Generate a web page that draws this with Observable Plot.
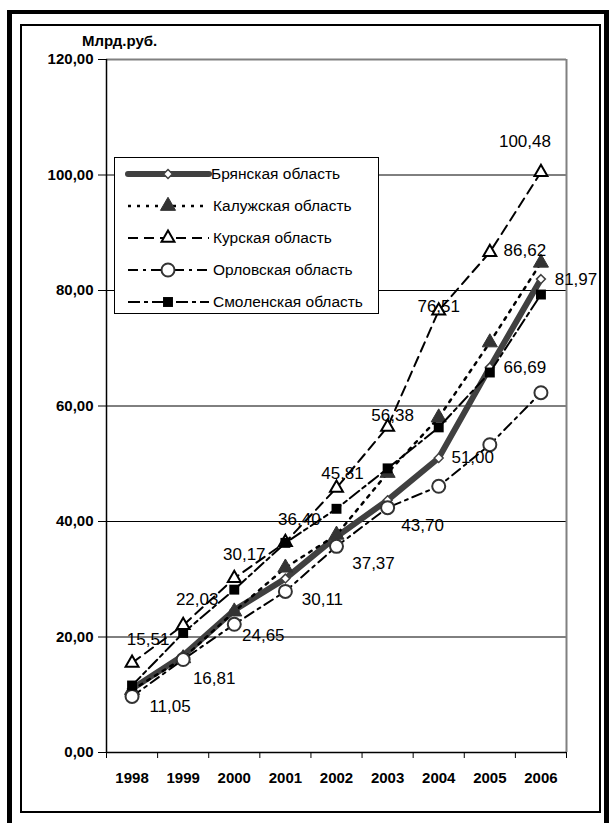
<!DOCTYPE html>
<html><head><meta charset="utf-8">
<script src="https://cdn.jsdelivr.net/npm/d3@7"></script>
<script src="https://cdn.jsdelivr.net/npm/@observablehq/plot@0.6"></script>
<style>
body{margin:0;background:#fff;font-family:"Liberation Sans",Arial,sans-serif;}
#wrap{position:relative;width:611px;height:823px;overflow:hidden;background:#fff;}
.outer{position:absolute;left:7px;top:10px;width:602px;height:900px;box-sizing:border-box;border-left:5px solid #000;border-top:4px solid #000;border-right:5px solid #000;}
.inner{position:absolute;left:20px;top:24px;width:581px;height:789px;box-sizing:border-box;border:2px solid #000;}
#chart{position:absolute;left:0;top:0;}
#ylabel{position:absolute;left:82px;top:33px;font-weight:bold;font-size:15px;line-height:16px;}
#legend{position:absolute;left:114px;top:157px;width:265px;height:157px;box-sizing:border-box;border:1px solid #000;background:#fff;}
</style></head><body>
<div id="wrap">
  <div class="outer"></div>
  <div class="inner"></div>
  <div id="chart"></div>
  <div id="ylabel">Млрд.руб.</div>
  <div id="legend"></div>
</div>
<script>
const years = [1998, 1999, 2000, 2001, 2002, 2003, 2004, 2005, 2006];
const seriesNames = ["Брянская область", "Калужская область", "Курская область", "Орловская область", "Смоленская область"];
const bryansk = [11.05, 16.81, 24.65, 30.11, 37.37, 43.70, 51.00, 66.69, 81.97];
const kaluga = [10.8, 16.3, 24.4, 32.0, 37.7, 48.4, 58.0, 71.0, 84.8];
const kursk = [15.51, 22.03, 30.17, 36.40, 45.81, 56.38, 76.51, 86.62, 100.48];
const orel = [9.7, 16.1, 22.2, 27.9, 35.7, 42.4, 46.1, 53.3, 62.3];
const smolensk = [11.6, 20.7, 28.2, 36.3, 42.2, 49.2, 56.3, 65.8, 79.3];
const yTicks = [0, 20, 40, 60, 80, 100, 120];

// label placement offsets (pixels) for the labelled series
const kurskLabelOffsets = [[16,-23],[14,-26],[10,-24],[14,-23],[6,-14],[5,-11],[0,-4],[35,-2],[-16,-31]];
const bryanskLabelOffsets = [[38,18],[31,23],[29,25],[37,21],[37,27],[35,25],[34,0],[35,0],[35,0]];

const fmt = v => v.toFixed(2).replace(".", ",");

const styles = [
  {values: bryansk, line: {stroke: "#404040", strokeWidth: 6, strokeLinejoin: "round", strokeLinecap: "round"},
   dot: {symbol: "diamond2", r: 4, fill: "#fff", stroke: "#404040", strokeWidth: 1.5}},
  {values: kaluga, line: {stroke: "#000", strokeWidth: 2.5, strokeDasharray: "3,6"},
   dot: {symbol: "triangle", r: 5.6, fill: "#333", stroke: "#333", strokeWidth: 1}},
  {values: kursk, line: {stroke: "#000", strokeWidth: 2, strokeDasharray: "10,6"},
   dot: {symbol: "triangle", r: 4.8, fill: "#fff", stroke: "#000", strokeWidth: 2}},
  {values: orel, line: {stroke: "#000", strokeWidth: 2, strokeDasharray: "10,5,3,5"},
   dot: {symbol: "circle", r: 6.5, fill: "#fff", stroke: "#333", strokeWidth: 2}},
  {values: smolensk, line: {stroke: "#000", strokeWidth: 2, strokeDasharray: "12,4,4,4"},
   dot: {symbol: "square", r: 5.6, fill: "#000", stroke: "none"}}
];

const idx = years.map((_, i) => i);
const bounds = [years[0] - 0.5, ...years.map(y => y + 0.5)];

const marks = [
  Plot.ruleY(yTicks.filter(t => t > 0 && t < 120), {stroke: "#000", strokeWidth: 1}),
  Plot.ruleY([120], {stroke: "#808080", strokeWidth: 2}),
  Plot.ruleX([bounds[bounds.length - 1]], {stroke: "#808080", strokeWidth: 2}),
  Plot.ruleX([bounds[0]], {stroke: "#000", strokeWidth: 1.5}),
  Plot.ruleY([0], {stroke: "#000", strokeWidth: 1.5}),
  Plot.axisY(yTicks, {tickSize: 8, tickPadding: 5, tickFormat: fmt, fontWeight: "bold", fontSize: 15}),
  Plot.axisX(bounds, {tickSize: 6, tickFormat: () => ""}),
  Plot.axisX(years, {tickSize: 0, tickPadding: 20, tickFormat: d => String(d), fontWeight: "bold", fontSize: 15})
];

styles.forEach(s => {
  marks.push(Plot.line(idx, {x: i => years[i], y: i => s.values[i], ...s.line}));
  marks.push(Plot.dot(idx, {x: i => years[i], y: i => s.values[i], ...s.dot}));
});

idx.forEach(i => {
  marks.push(Plot.text([i], {x: years[i], y: kursk[i], text: [fmt(kursk[i])], dx: kurskLabelOffsets[i][0], dy: kurskLabelOffsets[i][1], fontSize: 17, textAnchor: "middle"}));
  marks.push(Plot.text([i], {x: years[i], y: bryansk[i], text: [fmt(bryansk[i])], dx: bryanskLabelOffsets[i][0], dy: bryanskLabelOffsets[i][1], fontSize: 17, textAnchor: "middle"}));
});

const chart = Plot.plot({
  width: 611,
  height: 823,
  marginLeft: 106,
  marginRight: 45,
  marginTop: 59,
  marginBottom: 71,
  style: {fontFamily: "'Liberation Sans', Arial, sans-serif", background: "transparent", overflow: "visible", color: "#000"},
  x: {domain: [bounds[0], bounds[bounds.length - 1]]},
  y: {domain: [0, 120]},
  marks
});
document.getElementById("chart").appendChild(chart);

// Legend
const lg = d3.select("#legend").append("svg").attr("width", 263).attr("height", 155).style("display", "block");
styles.forEach((s, i) => {
  const cy = 16 + i * 32;
  const g = lg.append("g");
  const ln = g.append("line").attr("x1", 13).attr("x2", 94).attr("y1", cy).attr("y2", cy)
    .attr("stroke", s.line.stroke).attr("stroke-width", s.line.strokeWidth);
  if (s.line.strokeDasharray) ln.attr("stroke-dasharray", s.line.strokeDasharray);
  if (s.line.strokeLinecap) ln.attr("stroke-linecap", s.line.strokeLinecap);
  const symMap = {diamond2: d3.symbolDiamond2, triangle: d3.symbolTriangle, circle: d3.symbolCircle, square: d3.symbolSquare};
  const r = s.dot.r;
  g.append("path").attr("transform", `translate(53,${cy})`)
    .attr("d", d3.symbol(symMap[s.dot.symbol], r * r * Math.PI)())
    .attr("fill", s.dot.fill).attr("stroke", s.dot.stroke).attr("stroke-width", s.dot.strokeWidth || 1);
  g.append("text").attr("x", i === 0 ? 96 : 98).attr("y", cy).attr("dy", "0.35em")
    .attr("font-size", 15.5).attr("font-family", "'Liberation Sans', Arial, sans-serif").text(seriesNames[i]);
});
</script>
</body></html>
